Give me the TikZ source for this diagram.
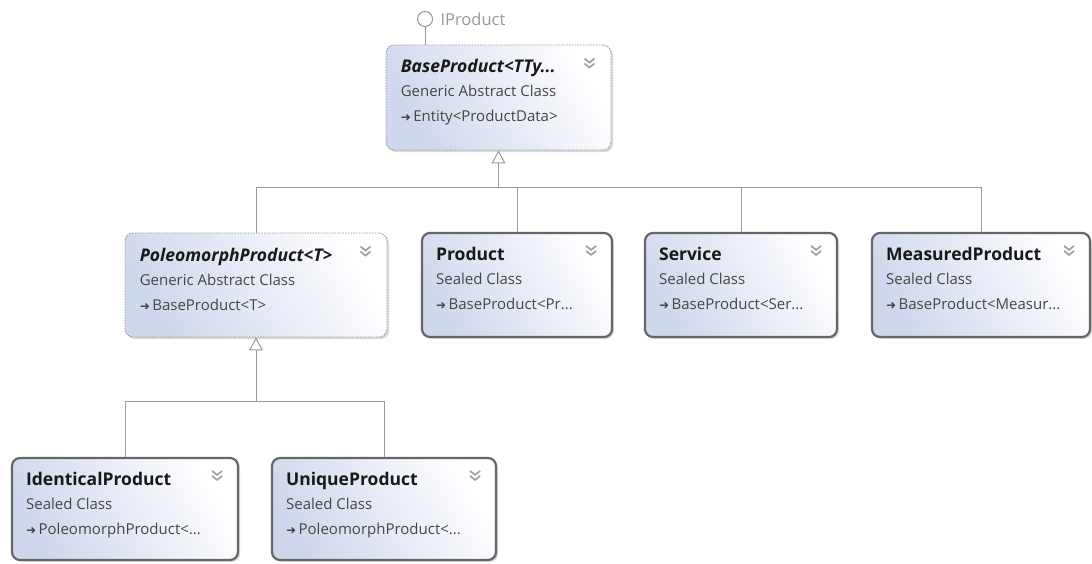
\documentclass[tikz,border=0pt]{standalone}
\usepackage{fontspec}
\setmainfont{Open Sans}
\newfontfamily\symfont{DejaVu Sans}
\usepackage{tikz}
\usetikzlibrary{arrows.meta, shadows, calc}

\definecolor{boxblue}{RGB}{206,215,236}
\definecolor{boxedge}{RGB}{102,102,102}
\definecolor{dashedge}{RGB}{150,150,150}
\definecolor{linkgray}{RGB}{155,155,155}
\definecolor{kindgray}{RGB}{70,70,70}

\newcommand{\inh}{{\symfont\fontsize{12}{12}\selectfont\color{kindgray}➜}\,}
\newcommand{\ctitle}[1]{{\fontsize{17.5}{24}\selectfont\bfseries\color{black!90}#1}}
\newcommand{\atitle}[1]{{\fontsize{17.5}{24}\selectfont\bfseries\itshape\color{black!90}#1}}

\tikzset{
  classbox/.style={rounded corners=8pt, left color=boxblue, right color=white,
    shading angle=120, inner sep=0pt,
    drop shadow={shadow xshift=2pt, shadow yshift=-2pt, fill=black, opacity=0.15}},
  sealedbox/.style={classbox, draw=boxedge, line width=2.2pt},
  abstractbox/.style={classbox, draw=dashedge, line width=0.9pt, dash pattern=on 1.5pt off 1.2pt},
  classtext/.style={anchor=north west, inner sep=0pt, align=left, text=kindgray,
    font=\fontsize{15}{24.5}\selectfont},
  link/.style={draw=linkgray, line width=1pt},
  inherit/.style={link, -{Triangle[open, width=14pt, length=13pt]}},
  chevron/.pic={
    \draw[gray!75, line width=1.7pt] (-5,0) -- (0,4) -- (5,0);
    \draw[gray!75, line width=1.7pt] (-5,5) -- (0,9) -- (5,5);
  }
}

\begin{document}
\begin{tikzpicture}[x=1pt, y=-1pt]
  \useasboundingbox (0,0) rectangle (1092,563);

  % Base class
  \node[abstractbox, minimum width=225pt, minimum height=105pt] (base) at (498.5,97.5) {};
  \node[classtext] (base-text) at ([shift={(15,14)}]base.north west)
    {\atitle{BaseProduct<TTy...}\\ Generic Abstract Class\\ \inh Entity<ProductData>};
  \pic at ([shift={(-22,14)}]base.north east) {chevron};

  % Interface lollipop
  \node[circle, draw=dashedge, line width=1pt, minimum size=15pt, inner sep=0pt] (iface) at (425,19) {};
  \node[anchor=west, text=gray!80, font=\fontsize{16.5}{16.5}\selectfont] (iface-label) at ([xshift=4pt]iface.east) {IProduct};
  \draw[link] (iface.south) -- (iface.south |- base.north);

  % Second row
  \node[abstractbox, minimum width=262pt, minimum height=104pt] (poleo) at (256,285) {};
  \node[classtext] (poleo-text) at ([shift={(15,15)}]poleo.north west)
    {\atitle{PoleomorphProduct<T>}\\ Generic Abstract Class\\ \inh BaseProduct<T>};
  \pic at ([shift={(-22,14)}]poleo.north east) {chevron};

  \node[sealedbox, minimum width=190pt, minimum height=104pt] (product) at (517,285) {};
  \node[classtext] (product-text) at ([shift={(15,15)}]product.north west)
    {\ctitle{Product}\\ Sealed Class\\ \inh BaseProduct<Pr...};
  \pic at ([shift={(-22,14)}]product.north east) {chevron};

  \node[sealedbox, minimum width=192pt, minimum height=104pt] (service) at (741,285) {};
  \node[classtext] (service-text) at ([shift={(15,15)}]service.north west)
    {\ctitle{Service}\\ Sealed Class\\ \inh BaseProduct<Ser...};
  \pic at ([shift={(-22,14)}]service.north east) {chevron};

  \node[sealedbox, minimum width=218pt, minimum height=104pt] (measured) at (981,285) {};
  \node[classtext] (measured-text) at ([shift={(15,15)}]measured.north west)
    {\ctitle{MeasuredProduct}\\ Sealed Class\\ \inh BaseProduct<Measur...};
  \pic at ([shift={(-22,14)}]measured.north east) {chevron};

  % Third row
  \node[sealedbox, minimum width=226pt, minimum height=102pt] (identical) at (125,509) {};
  \node[classtext] (identical-text) at ([shift={(15,15)}]identical.north west)
    {\ctitle{IdenticalProduct}\\ Sealed Class\\ \inh PoleomorphProduct<...};
  \pic at ([shift={(-22,14)}]identical.north east) {chevron};

  \node[sealedbox, minimum width=224pt, minimum height=102pt] (unique) at (384,509) {};
  \node[classtext] (unique-text) at ([shift={(15,15)}]unique.north west)
    {\ctitle{UniqueProduct}\\ Sealed Class\\ \inh PoleomorphProduct<...};
  \pic at ([shift={(-22,14)}]unique.north east) {chevron};

  % Inheritance connectors
  \coordinate (bus1) at (base.south |- 0,187);
  \coordinate (bus2) at (poleo.south |- 0,401);
  \draw[inherit] (bus1) -- (base.south);
  \draw[link] (poleo.north) |- (bus1);
  \draw[link] (product.north) |- (bus1);
  \draw[link] (service.north) |- (bus1);
  \draw[link] (measured.north) |- (bus1);
  \draw[inherit] (bus2) -- (poleo.south);
  \draw[link] (identical.north) |- (bus2);
  \draw[link] (unique.north) |- (bus2);
\end{tikzpicture}
\end{document}
